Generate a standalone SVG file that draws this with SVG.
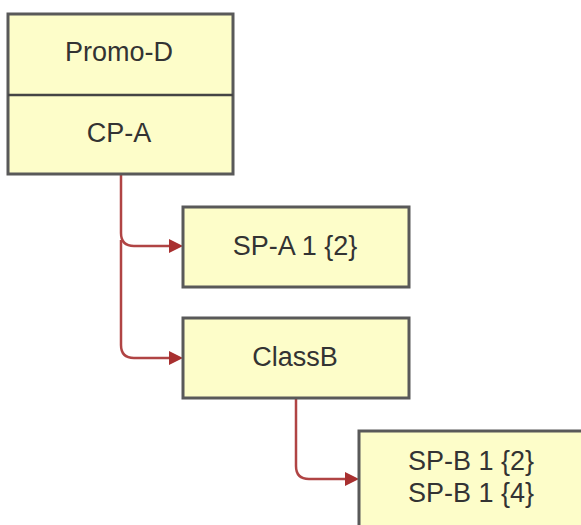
<svg xmlns="http://www.w3.org/2000/svg" width="581" height="525" viewBox="0 0 581 525">
<style>
.box{fill:#fdfdc9;stroke:#595959;stroke-width:3}
.lbl{font-family:"Liberation Sans",Arial,sans-serif;font-size:27px;fill:#333;text-anchor:middle;dominant-baseline:central}
.conn{fill:none;stroke:#b04444;stroke-width:2.5}
.head{fill:#a83030}
</style>
<rect width="581" height="525" fill="#fff"/>
<g id="connectors">
<path class="conn" d="M121,175 V233 Q121,246 134,246 H172"/>
<path class="head" d="M169,239 L183,246 L169,253 z"/>
<path class="conn" d="M121,240 V345 Q121,358 134,358 H172"/>
<path class="head" d="M169,351 L183,358 L169,365 z"/>
<path class="conn" d="M296,399 V466 Q296,479 309,479 H348"/>
<path class="head" d="M345,472 L359,479 L345,486 z"/>
</g>
<g id="promo-d">
<rect class="box" x="8" y="14" width="225" height="160"/>
<line x1="8" y1="95" x2="233" y2="95" stroke="#444" stroke-width="2.5"/>
<text class="lbl" x="119" y="52">Promo-D</text>
<text class="lbl" x="119" y="133">CP-A</text>
</g>
<g id="sp-a">
<rect class="box" x="183" y="207" width="226" height="80"/>
<text class="lbl" x="295" y="246">SP-A 1 {2}</text>
</g>
<g id="classb">
<rect class="box" x="183" y="318" width="226" height="80"/>
<text class="lbl" x="295" y="357">ClassB</text>
</g>
<g id="sp-b">
<rect class="box" x="359" y="431" width="240" height="110"/>
<text class="lbl" x="471" y="461">SP-B 1 {2}</text>
<text class="lbl" x="471" y="493">SP-B 1 {4}</text>
</g>
</svg>
